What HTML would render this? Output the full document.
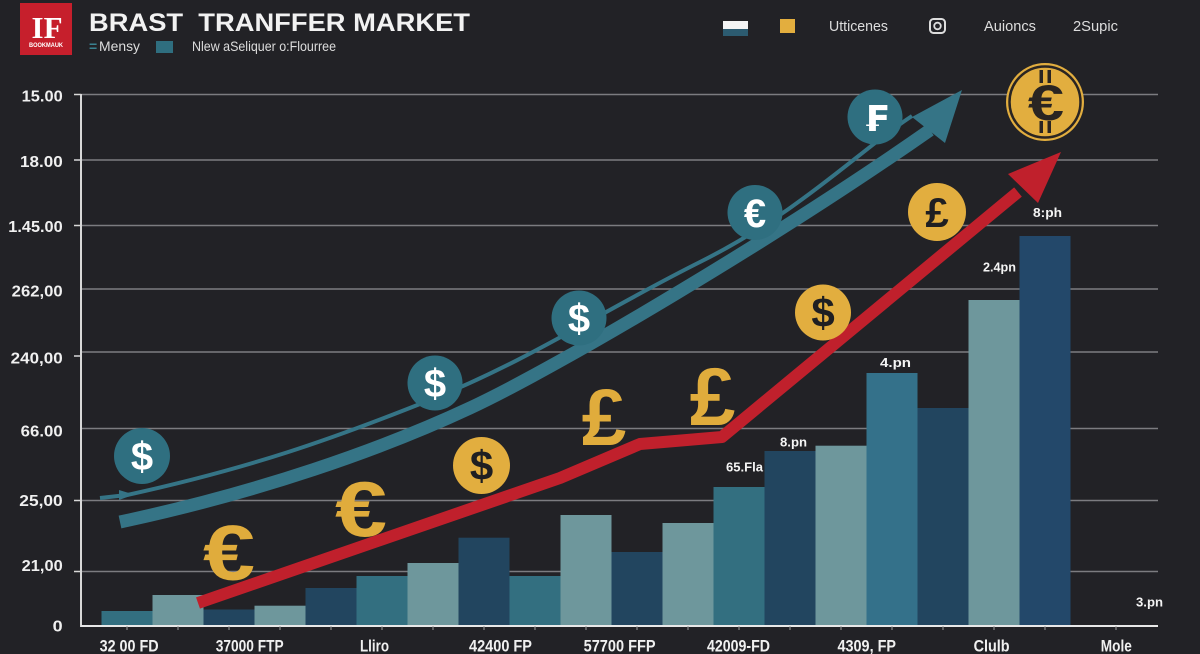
<!DOCTYPE html>
<html>
<head>
<meta charset="utf-8">
<style>
html,body{margin:0;padding:0;background:#222226;}
svg{display:block;}
text{font-family:"Liberation Sans","DejaVu Sans",sans-serif;}
</style>
</head>
<body>
<svg width="1200" height="654" viewBox="0 0 1200 654" xmlns="http://www.w3.org/2000/svg">
<rect width="1200" height="654" fill="#222226"/>

<!-- Header logo -->
<rect x="20" y="3" width="52" height="52" fill="#c61f2c"/>
<text x="47" y="38" font-weight="bold" font-size="31" fill="#ffffff" text-anchor="middle" style="font-family:'Liberation Serif',serif">IF</text>
<text x="29" y="47" font-size="6" font-weight="bold" fill="#ffffff" textLength="34" lengthAdjust="spacingAndGlyphs">BOOKMAUK</text>

<!-- Title -->
<text x="89" y="31" font-size="25" font-weight="bold" fill="#f2f2f2" textLength="381" lengthAdjust="spacingAndGlyphs" style="white-space:pre">BRAST  TRANFFER MARKET</text>
<text x="89" y="51" font-size="14" fill="#3a8291" font-weight="bold">=</text>
<text x="99" y="51" font-size="14" fill="#dddddd" textLength="41" lengthAdjust="spacingAndGlyphs">Mensy</text>
<rect x="156" y="41" width="17" height="12" fill="#2f6e7f"/>
<text x="192" y="51" font-size="14" fill="#dddddd" textLength="144" lengthAdjust="spacingAndGlyphs">Nlew aSeliquer o:Flourree</text>

<!-- Top right legend -->
<rect x="723" y="21" width="25" height="8" fill="#f4f4f4"/>
<rect x="723" y="29" width="25" height="7" fill="#2c5b70"/>
<rect x="780" y="19" width="15" height="14" fill="#e3ae3e"/>
<text x="829" y="31" font-size="15" fill="#dddddd" textLength="59" lengthAdjust="spacingAndGlyphs">Utticenes</text>
<rect x="930" y="19" width="15" height="14" rx="3.5" fill="none" stroke="#dddddd" stroke-width="2"/>
<circle cx="937.5" cy="26" r="3.3" fill="none" stroke="#dddddd" stroke-width="1.8"/>
<text x="984" y="31" font-size="15" fill="#dddddd" textLength="52" lengthAdjust="spacingAndGlyphs">Auioncs</text>
<text x="1073" y="31" font-size="15" fill="#dddddd" textLength="45" lengthAdjust="spacingAndGlyphs">2Supic</text>

<!-- Grid lines -->
<g stroke="#7c7c80" stroke-width="1.5">
<line x1="81" y1="94.5" x2="1158" y2="94.5"/>
<line x1="81" y1="160" x2="1158" y2="160"/>
<line x1="81" y1="225.5" x2="1158" y2="225.5"/>
<line x1="81" y1="289" x2="1158" y2="289"/>
<line x1="81" y1="352" x2="1158" y2="352"/>
<line x1="81" y1="428.5" x2="1158" y2="428.5"/>
<line x1="81" y1="500.5" x2="1158" y2="500.5"/>
<line x1="81" y1="571.5" x2="1158" y2="571.5"/>
</g>

<!-- Y labels -->
<g font-size="16" font-weight="bold" fill="#f0f0f0">
<text x="21.7" y="101.5" textLength="41" lengthAdjust="spacingAndGlyphs">15.00</text>
<text x="20" y="167" textLength="42.7" lengthAdjust="spacingAndGlyphs">18.00</text>
<text x="8.3" y="232" textLength="54.4" lengthAdjust="spacingAndGlyphs">1.45.00</text>
<text x="11.7" y="296.5" textLength="51" lengthAdjust="spacingAndGlyphs">262,00</text>
<text x="10.7" y="363.5" textLength="52" lengthAdjust="spacingAndGlyphs">240,00</text>
<text x="20.7" y="436.5" textLength="42" lengthAdjust="spacingAndGlyphs">66.00</text>
<text x="19.3" y="506" textLength="43.4" lengthAdjust="spacingAndGlyphs">25,00</text>
<text x="21.7" y="571" textLength="41" lengthAdjust="spacingAndGlyphs">21,00</text>
<text x="52.7" y="631.5" textLength="10" lengthAdjust="spacingAndGlyphs">0</text>
</g>

<!-- Y axis -->
<line x1="81" y1="94" x2="81" y2="627" stroke="#d8d8d8" stroke-width="2"/>
<g stroke="#d8d8d8" stroke-width="1.5">
<line x1="74" y1="94.5" x2="81" y2="94.5"/>
<line x1="74" y1="160" x2="81" y2="160"/>
<line x1="74" y1="225.5" x2="81" y2="225.5"/>
<line x1="74" y1="356" x2="81" y2="356"/>
<line x1="74" y1="500.5" x2="81" y2="500.5"/>
<line x1="74" y1="571.5" x2="81" y2="571.5"/>
</g>

<!-- Bars -->
<g>
<rect x="101.5" y="611" width="51" height="15" fill="#336f80"/>
<rect x="152.5" y="595" width="51" height="31" fill="#6e979c"/>
<rect x="203.5" y="609.5" width="51" height="16.5" fill="#22455f"/>
<rect x="254.5" y="605.7" width="51" height="20.3" fill="#6e979c"/>
<rect x="305.5" y="588" width="51" height="38" fill="#22455f"/>
<rect x="356.5" y="576" width="51" height="50" fill="#336f80"/>
<rect x="407.5" y="563" width="51" height="63" fill="#6e979c"/>
<rect x="458.5" y="537.7" width="51" height="88.3" fill="#22455f"/>
<rect x="509.5" y="576" width="51" height="50" fill="#336f80"/>
<rect x="560.5" y="515" width="51" height="111" fill="#6e979c"/>
<rect x="611.5" y="552" width="51" height="74" fill="#22455f"/>
<rect x="662.5" y="523" width="51" height="103" fill="#6e979c"/>
<rect x="713.5" y="487" width="51" height="139" fill="#336f80"/>
<rect x="764.5" y="451" width="51" height="175" fill="#22455f"/>
<rect x="815.5" y="445.7" width="51" height="180.3" fill="#6e979c"/>
<rect x="866.5" y="373" width="51" height="253" fill="#34718a"/>
<rect x="917.5" y="408" width="51" height="218" fill="#22455f"/>
<rect x="968.5" y="300" width="51" height="326" fill="#6e979c"/>
<rect x="1019.5" y="236" width="51" height="390" fill="#23486a"/>
</g>

<!-- X axis -->
<line x1="81" y1="626" x2="1158" y2="626" stroke="#e8e8e8" stroke-width="2"/>
<g stroke="#9a9a9a" stroke-width="1">
<line x1="127" y1="626" x2="127" y2="630"/><line x1="178" y1="626" x2="178" y2="630"/>
<line x1="229" y1="626" x2="229" y2="630"/><line x1="280" y1="626" x2="280" y2="630"/>
<line x1="331" y1="626" x2="331" y2="630"/><line x1="382" y1="626" x2="382" y2="630"/>
<line x1="433" y1="626" x2="433" y2="630"/><line x1="484" y1="626" x2="484" y2="630"/>
<line x1="535" y1="626" x2="535" y2="630"/><line x1="586" y1="626" x2="586" y2="630"/>
<line x1="637" y1="626" x2="637" y2="630"/><line x1="688" y1="626" x2="688" y2="630"/>
<line x1="739" y1="626" x2="739" y2="630"/><line x1="790" y1="626" x2="790" y2="630"/>
<line x1="841" y1="626" x2="841" y2="630"/><line x1="892" y1="626" x2="892" y2="630"/>
<line x1="943" y1="626" x2="943" y2="630"/><line x1="994" y1="626" x2="994" y2="630"/>
<line x1="1045" y1="626" x2="1045" y2="630"/><line x1="1116" y1="626" x2="1116" y2="630"/>
</g>

<!-- X labels -->
<g font-size="17" font-weight="bold" fill="#f0f0f0">
<text x="99.6" y="651.5" textLength="59" lengthAdjust="spacingAndGlyphs">32 00 FD</text>
<text x="215.7" y="651.5" textLength="68" lengthAdjust="spacingAndGlyphs">37000 FTP</text>
<text x="360" y="651.5" textLength="29" lengthAdjust="spacingAndGlyphs">Lliro</text>
<text x="469" y="651.5" textLength="63" lengthAdjust="spacingAndGlyphs">42400 FP</text>
<text x="583.6" y="651.5" textLength="72" lengthAdjust="spacingAndGlyphs">57700 FFP</text>
<text x="707" y="651.5" textLength="63" lengthAdjust="spacingAndGlyphs">42009-FD</text>
<text x="837.5" y="651.5" textLength="58.5" lengthAdjust="spacingAndGlyphs">4309, FP</text>
<text x="973.6" y="651.5" textLength="36" lengthAdjust="spacingAndGlyphs">Clulb</text>
<text x="1100.8" y="651.5" textLength="31" lengthAdjust="spacingAndGlyphs">Mole</text>
</g>

<!-- Value labels -->
<g font-size="13" font-weight="bold" fill="#f4f4f4">
<text x="726" y="471.5" textLength="37" lengthAdjust="spacingAndGlyphs">65.Fla</text>
<text x="780" y="446.5" textLength="27" lengthAdjust="spacingAndGlyphs">8.pn</text>
<text x="880" y="367" textLength="31" lengthAdjust="spacingAndGlyphs">4.pn</text>
<text x="983" y="271.5" textLength="33" lengthAdjust="spacingAndGlyphs">2.4pn</text>
<text x="1033" y="217" textLength="29" lengthAdjust="spacingAndGlyphs">8:ph</text>
<text x="1136" y="606.5" textLength="27" lengthAdjust="spacingAndGlyphs">3.pn</text>
</g>

<!-- Teal lines -->
<path d="M120,522 C260,492 380,450 470,408 S780,235 930,130" fill="none" stroke="#357486" stroke-width="13"/>
<path d="M100,498 L127,495 C250,468 330,440 430,400 S600,312 700,262 S860,150 912,116" fill="none" stroke="#357486" stroke-width="4"/>
<polygon points="119,490 134,494.5 119,500" fill="#357486"/>
<polygon points="962,90 912,117 945,143" fill="#357486"/>

<!-- Red line -->
<path d="M198,603 Q380,540 560,478 L640,444 L722,437 L1018,192" fill="none" stroke="#c0202c" stroke-width="12" stroke-linejoin="round"/>
<polygon points="1061,152 1008,174 1038,203" fill="#c0202c"/>

<!-- Gold plain glyphs -->
<g font-weight="bold" fill="#e0ac3c">
<text x="0" y="0" font-size="78" text-anchor="middle" transform="translate(229,579.5) scale(1.2,1)">€</text>
<text x="0" y="0" font-size="78" text-anchor="middle" transform="translate(361,536) scale(1.2,1)">€</text>
<text x="604" y="445" font-size="80" text-anchor="middle">£</text>
<text x="712.5" y="425" font-size="82" text-anchor="middle">£</text>
</g>

<!-- Teal coins -->
<g fill="#2f6f80">
<circle cx="142" cy="456" r="28"/>
<circle cx="435" cy="383" r="27.5"/>
<circle cx="579" cy="318" r="27.5"/>
<circle cx="755" cy="212.5" r="27.5"/>
<circle cx="875" cy="117" r="27.5"/>
</g>
<g font-weight="bold" fill="#ffffff" text-anchor="middle" font-size="40">
<text x="142" y="470">$</text>
<text x="435" y="397">$</text>
<text x="579" y="332">$</text>
<text x="755" y="227">€</text>
<text x="876" y="131" style="font-family:'DejaVu Sans','Liberation Sans',sans-serif" font-size="36">₣</text>
</g>

<!-- Gold coins -->
<g fill="#e2ae3f">
<circle cx="481.5" cy="465.5" r="28.5"/>
<circle cx="823" cy="312.5" r="28"/>
<circle cx="937" cy="212" r="29"/>
<circle cx="1045" cy="102" r="39"/>
</g>
<g font-weight="bold" fill="#1f1f22" text-anchor="middle">
<text x="481.5" y="480" font-size="42">$</text>
<text x="823" y="327" font-size="42">$</text>
<text x="937" y="227" font-size="42">£</text>
</g>
<circle cx="1045" cy="102" r="35.5" fill="none" stroke="#2a2522" stroke-width="2.5"/>
<g fill="#2a2522">
<rect x="1039.5" y="70" width="3.5" height="13"/>
<rect x="1047.5" y="70" width="3.5" height="13"/>
<rect x="1039.5" y="121" width="3.5" height="12"/>
<rect x="1047.5" y="121" width="3.5" height="12"/>
</g>
<text x="0" y="0" font-size="50" font-weight="bold" fill="#2a2522" text-anchor="middle" transform="translate(1046,120) scale(1.3,1)">€</text>

</svg>
</body>
</html>
